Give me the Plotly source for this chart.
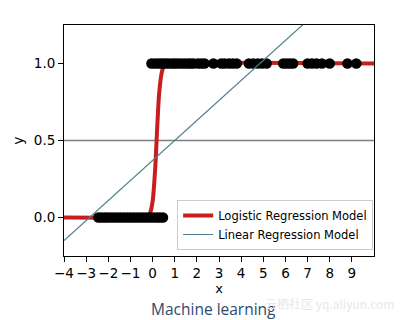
import plotly.graph_objects as go

# Data
zeros_x = [-2.45, -2.32, -2.18, -2.05, -1.9, -1.75, -1.6, -1.45, -1.3, -1.15, -1.0,
           -0.85, -0.7, -0.55, -0.4, -0.25, -0.1, 0.05, 0.2, 0.33, 0.47]
ones_x = [-0.05, 0.1, 0.25, 0.38, 0.5, 0.62, 0.75, 0.9, 1.02, 1.15, 1.3, 1.45, 1.6,
          1.72, 1.85, 2.05, 2.2, 2.35, 2.75, 3.1, 3.25, 3.45, 3.62, 3.8, 4.35, 4.55,
          4.75, 4.95, 5.15, 5.9, 6.05, 6.2, 6.35, 7.0, 7.2, 7.4, 7.65, 8.0, 8.8, 9.2]
logit_x = [-4, -0.4, -0.3, -0.2, -0.1, 0.0, 0.1, 0.15, 0.2, 0.25, 0.3, 0.4, 0.5, 0.6, 0.8, 10]
logit_y = [0, 0.001, 0.003, 0.01, 0.034, 0.103, 0.277, 0.40, 0.56, 0.70, 0.81, 0.93, 0.98, 0.993, 0.999, 1.0]
linear_x = [-4, 10]
linear_y = [-0.15, 1.67]
hline_y = 0.5
x_ticks = list(range(-4, 10))
y_ticks = [0.0, 0.5, 1.0]

FONT = "DejaVu Sans"

fig = go.Figure()
fig.add_trace(go.Scatter(x=[-4, 10], y=[hline_y, hline_y], mode="lines",
                         line=dict(color="#7f7f7f", width=1.5), showlegend=False,
                         hoverinfo="skip"))
fig.add_trace(go.Scatter(x=logit_x, y=logit_y, mode="lines", line_shape="spline",
                         line=dict(color="#c81e1e", width=4),
                         name="Logistic Regression Model"))
fig.add_trace(go.Scatter(x=zeros_x + ones_x, y=[0] * len(zeros_x) + [1] * len(ones_x),
                         mode="markers", marker=dict(color="black", size=10.5),
                         showlegend=False))
fig.add_trace(go.Scatter(x=linear_x, y=linear_y, mode="lines",
                         line=dict(color="#4f7f8f", width=1.2),
                         name="Linear Regression Model"))

fig.update_layout(
    width=407, height=320,
    margin=dict(l=64, r=33, t=25, b=64),
    paper_bgcolor="white", plot_bgcolor="white",
    font=dict(family=FONT, size=13.5, color="black"),
    legend=dict(x=0.365, y=0.026, xanchor="left", yanchor="bottom",
                bordercolor="#cccccc", borderwidth=1, bgcolor="rgba(255,255,255,0.8)",
                font=dict(size=11.5), tracegroupgap=0, itemwidth=30),
    xaxis=dict(range=[-4, 10], tickvals=x_ticks, ticks="outside", ticklen=5,
               tickcolor="black", showline=True, linecolor="black", linewidth=1,
               mirror=True, showgrid=False, zeroline=False,
               title=dict(text="x", standoff=2, font=dict(size=13))),
    yaxis=dict(range=[-0.25, 1.25], tickvals=y_ticks, tickformat=".1f",
               ticks="outside", ticklen=5, tickcolor="black", showline=True,
               linecolor="black", linewidth=1, mirror=True, showgrid=False,
               zeroline=False, title=dict(text="y", standoff=6, font=dict(size=14))),
)

fig.add_annotation(text="Machine learning", xref="paper", yref="paper",
                   x=(213 - 64) / 310, y=-(309 - 256) / 231, yanchor="middle",
                   showarrow=False,
                   font=dict(family="Open Sans", size=15.5, color="#2f4a6b"))
fig.add_annotation(text="云栖社区 yq.aliyun.com", xref="paper", yref="paper",
                   x=(396 - 64) / 310, xanchor="right", y=-(303 - 256) / 231,
                   yanchor="middle", showarrow=False,
                   font=dict(family="Noto Sans CJK SC", size=12, color="#e8e8e8"))

fig.write_html("out.html")
